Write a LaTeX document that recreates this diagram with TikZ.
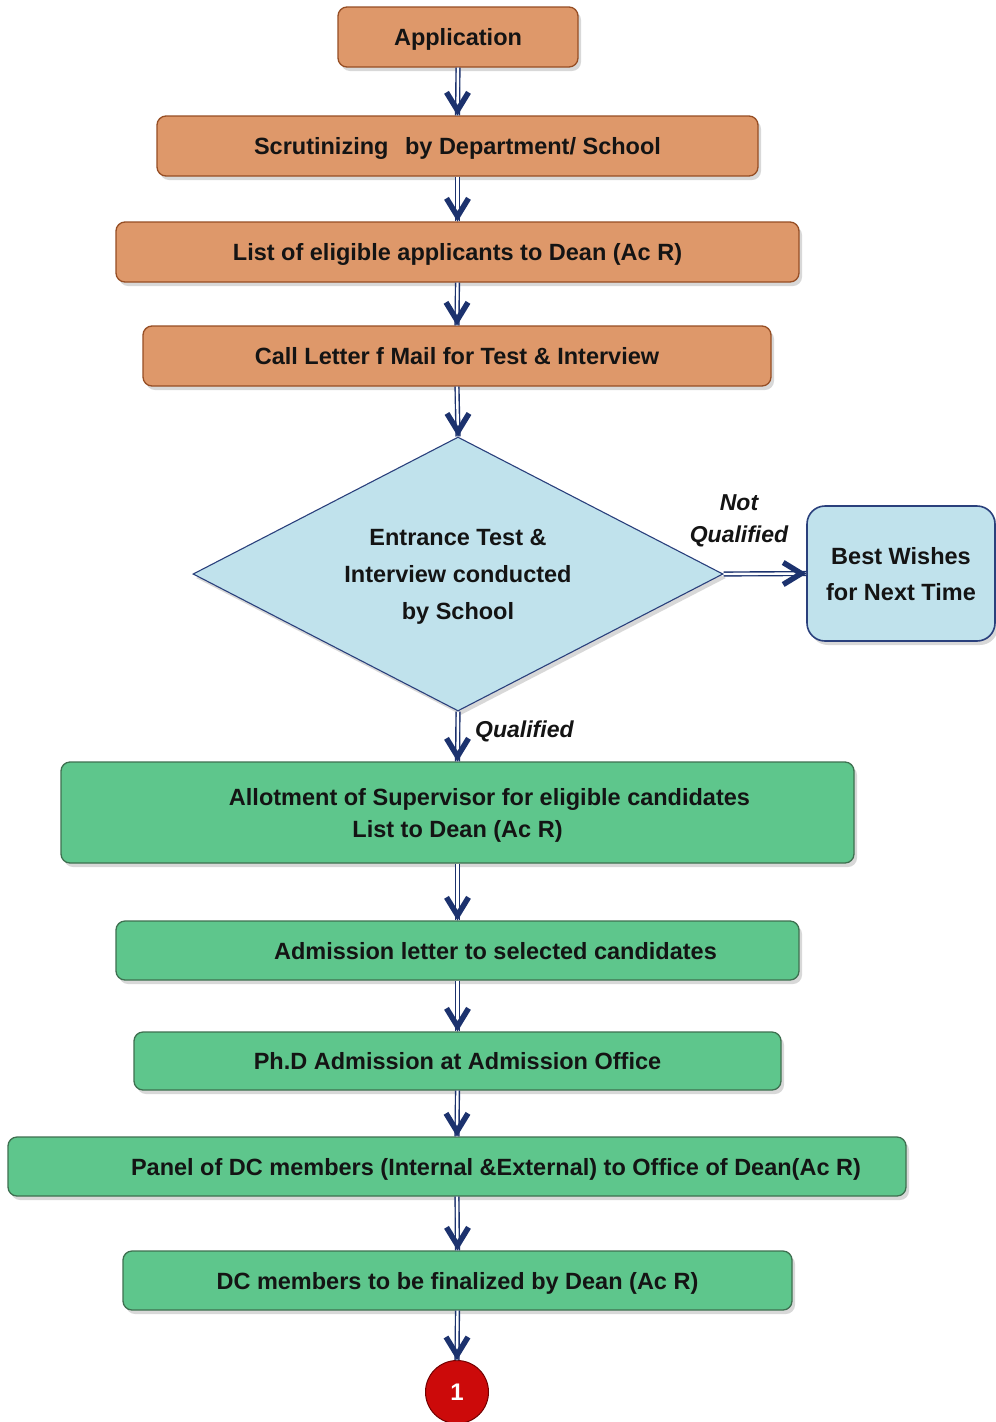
\documentclass[tikz,border=0pt]{standalone}
\usepackage{fontspec}
\setmainfont{Liberation Sans}
\usetikzlibrary{shapes.geometric,shadows,calc}
\definecolor{navyc}{RGB}{28,50,110}
\definecolor{orfill}{RGB}{222,152,106}
\definecolor{ordraw}{RGB}{150,78,36}
\definecolor{grfill}{RGB}{94,198,140}
\definecolor{grdraw}{RGB}{62,112,80}
\definecolor{bfill}{RGB}{192,226,236}
\definecolor{bdraw}{RGB}{42,64,124}
\definecolor{redc}{RGB}{204,10,10}
\definecolor{txt}{RGB}{20,20,20}
\tikzset{
  box/.style={rectangle, rounded corners=9pt, draw, line width=1.3pt, text=txt,
    font=\fontsize{23.5}{32}\selectfont\bfseries, inner sep=0pt, align=center, text depth=0pt,
    drop shadow={shadow xshift=3pt, shadow yshift=-4pt, opacity=0.3}},
  orbox/.style={box, fill=orfill, draw=ordraw},
  grbox/.style={box, fill=grfill, draw=grdraw},
  shaft/.style={draw=navyc, line width=1.4pt, double=white, double distance=2.4pt},
  chev/.style={draw=navyc, line width=5.5pt, line join=miter, line cap=butt},
  lbl/.style={font=\fontsize{23}{32}\selectfont\bfseries\itshape, text=txt, align=center, inner sep=0pt}
}
\newcommand\chevdown[1]{\draw[chev] ($(#1)+(-11,-23)$) -- ($(#1)+(0,-5)$) -- ($(#1)+(11,-23)$);}
\newcommand\chevright[1]{\draw[chev] ($(#1)+(-23,-11)$) -- ($(#1)+(-5,0)$) -- ($(#1)+(-23,11)$);}
\begin{document}
\begin{tikzpicture}[x=1pt,y=-1pt]
\useasboundingbox (0,0) rectangle (996,1422);
\fill[white] (0,0) rectangle (996,1422);
% orange boxes
\node[orbox, minimum width=240pt, minimum height=60pt] (app) at (458,37) {Application};
\node[orbox, minimum width=601pt, minimum height=60pt] (scr) at (457.5,146) {Scrutinizing\hspace*{10pt} by Department/ School};
\node[orbox, minimum width=683pt, minimum height=60pt] (lst) at (457.5,252) {List of eligible applicants to Dean (Ac R)};
\node[orbox, minimum width=628pt, minimum height=60pt] (call) at (457,356) {Call Letter f Mail for Test \& Interview};
% decision
\node[diamond, aspect=1.93, draw=bdraw, fill=bfill, line width=1.1pt, minimum width=530pt, minimum height=274pt,
  inner sep=0pt, align=center, text=txt, font=\fontsize{23.5}{37}\selectfont\bfseries, text depth=0pt,
  drop shadow={shadow xshift=3pt, shadow yshift=-4pt, opacity=0.3}] (dia) at (458,574) {Entrance Test \&\\Interview conducted\\by School};
\node[box, fill=bfill, draw=bdraw, line width=1.6pt, rounded corners=18pt, minimum width=188pt, minimum height=135pt,
  font=\fontsize{23.5}{36}\selectfont\bfseries] (best) at (901,573.5) {Best Wishes\\for Next Time};
\node[lbl] (nq) at (739,521) {Not\\Qualified};
\node[lbl, anchor=west] (q) at (475,731) {Qualified};
% green boxes
\node[grbox, minimum width=793pt, minimum height=101pt] (allot) at (457.5,812.5) {\hspace*{64pt}Allotment of Supervisor for eligible candidates\\List to Dean (Ac R)};
\node[grbox, minimum width=683pt, minimum height=59pt] (adm) at (457.5,950.5) {\hspace*{76pt}Admission letter to selected candidates};
\node[grbox, minimum width=647pt, minimum height=58pt] (phd) at (457.5,1061) {Ph.D Admission at Admission Office};
\node[grbox, minimum width=898pt, minimum height=59pt] (panel) at (457,1166.5) {\hspace*{78pt}Panel of DC members (Internal \&External) to Office of Dean(Ac R)};
\node[grbox, minimum width=669pt, minimum height=59pt] (dcm) at (457.5,1280.5) {DC members to be finalized by Dean (Ac R)};
\node[circle, fill=redc, draw=red!45!black, line width=1pt, minimum size=63pt, inner sep=0pt, text=white,
  font=\fontsize{24}{26}\selectfont\bfseries] (one) at (457,1392) {1};
% connectors
\draw[shaft] (app.south) -- (scr.north); \chevdown{scr.north}
\draw[shaft] (scr.south) -- (lst.north); \chevdown{lst.north}
\draw[shaft] (lst.south) -- (call.north); \chevdown{call.north}
\draw[shaft] (call.south) -- (dia.north); \chevdown{dia.north}
\draw[shaft] (dia.east) -- (best.west); \chevright{best.west}
\draw[shaft] (dia.south) -- (allot.north); \chevdown{allot.north}
\draw[shaft] (allot.south) -- (adm.north); \chevdown{adm.north}
\draw[shaft] (adm.south) -- (phd.north); \chevdown{phd.north}
\draw[shaft] (phd.south) -- (panel.north); \chevdown{panel.north}
\draw[shaft] (panel.south) -- (dcm.north); \chevdown{dcm.north}
\draw[shaft] (dcm.south) -- (one.north); \chevdown{one.north}
\end{tikzpicture}
\end{document}
